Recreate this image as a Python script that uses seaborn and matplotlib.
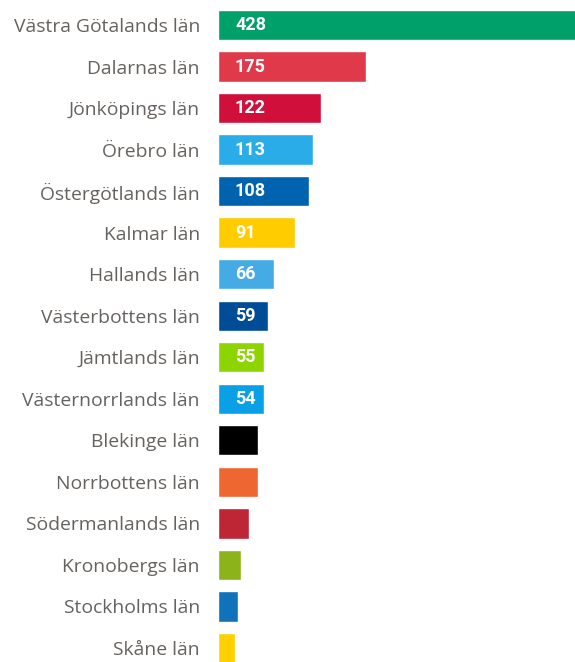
import matplotlib
matplotlib.use("Agg")
import matplotlib.pyplot as plt
import seaborn as sns
import pandas as pd
from matplotlib.transforms import offset_copy

categories = ["Västra Götalands län", "Dalarnas län", "Jönköpings län", "Örebro län",
              "Östergötlands län", "Kalmar län", "Hallands län", "Västerbottens län",
              "Jämtlands län", "Västernorrlands län", "Blekinge län", "Norrbottens län",
              "Södermanlands län", "Kronobergs län", "Stockholms län", "Skåne län"]
values = [428, 175, 122, 113, 108, 91, 66, 59, 55, 54, 47, 47, 37, 27, 24, 20]
shown_labels = [True] * 10 + [False] * 6
colors = ["#00A06A", "#E03A4A", "#D0103A", "#2AACE8", "#0063B0", "#FFCC00",
          "#45ABE5", "#004C97", "#8ED400", "#0AA0E6", "#000000", "#EE6630",
          "#BE2535", "#8DB31A", "#1072BA", "#FFD100"]

df = pd.DataFrame({"lan": categories, "antal": values})

sns.set_theme(style="white")
plt.rcParams["font.family"] = ["Open Sans", "DejaVu Sans"]

fig = plt.figure(figsize=(5.75, 6.62), dpi=100)
ax = fig.add_axes([218 / 575, 0, 1 - 218 / 575, 1])

sns.barplot(data=df, x="antal", y="lan", hue="lan", palette=dict(zip(categories, colors)),
            order=categories, legend=False, width=0.73, ax=ax, saturation=1)

px_per_unit = 0.845
ax.set_xlim(0, (575 - 218) / px_per_unit)
spacing = 41.53
ax.set_ylim(15 + (662 - 648) / spacing, -0.5 - 4.2 / spacing)

for side in ["top", "right", "bottom", "left"]:
    ax.spines[side].set_visible(False)
ax.set_xticks([])
ax.set_xlabel("")
ax.set_ylabel("")
ax.tick_params(axis="y", length=0, pad=13, labelsize=13.9, labelcolor="#66625F")

for i, (v, show) in enumerate(zip(values, shown_labels)):
    if not show:
        continue
    tr = offset_copy(ax.transData, fig=fig, x=17, y=0, units="dots")
    ax.text(0, i, str(v), transform=tr, ha="left", va="center",
            color="white", fontsize=13, fontweight="bold", family=["Roboto", "DejaVu Sans"])

fig.savefig("out.png", dpi=100)
